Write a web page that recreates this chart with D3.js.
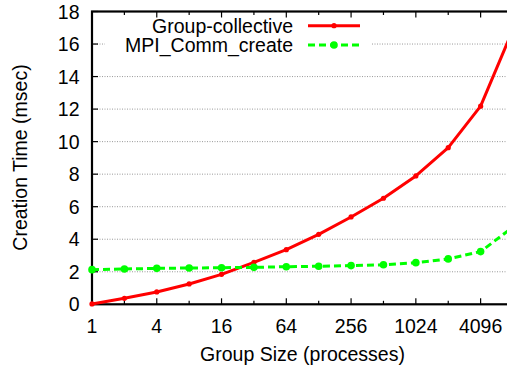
<!DOCTYPE html>
<html>
<head>
<meta charset="utf-8">
<script src="https://cdn.jsdelivr.net/npm/d3@7"></script>
<style>
  html, body { margin: 0; padding: 0; background: #fff; }
  svg { display: block; }
  text { font-family: "Liberation Sans", Arial, Helvetica, sans-serif; fill: #000; }
</style>
</head>
<body>
<svg id="chart" width="507" height="370"></svg>
<script>
// ---- data ----
const groupSizes = [1, 2, 4, 8, 16, 32, 64, 128, 256, 512, 1024, 2048, 4096, 8192];
const groupCollective = [0.02, 0.37, 0.76, 1.25, 1.84, 2.58, 3.36, 4.30, 5.37, 6.52, 7.89, 9.63, 12.18, 16.9];
const mpiCommCreate = [2.13, 2.17, 2.21, 2.23, 2.25, 2.27, 2.31, 2.34, 2.38, 2.43, 2.56, 2.79, 3.24, 4.75];
const xTickLabels = [1, 4, 16, 64, 256, 1024, 4096];
const yTicks = [0, 2, 4, 6, 8, 10, 12, 14, 16, 18];
const seriesNames = ["Group-collective", "MPI_Comm_create"];
const seriesColors = ["#ff0000", "#00ff00"];

const svg = d3.select("#chart");
const mLeft = 92, mRight = 513, mTop = 11.5, mBottom = 304.3;

const x = d3.scaleLog().base(2).domain([1, 8192]).range([mLeft, mRight]);
const y = d3.scaleLinear().domain([0, 18]).range([mBottom, mTop]);

const FS = "19.5px";

// grid lines
const grid = svg.append("g");
yTicks.filter(v => v > 0 && v < 18).forEach(v => {
  grid.append("line")
    .attr("x1", mLeft).attr("x2", mRight)
    .attr("y1", y(v)).attr("y2", y(v))
    .attr("stroke", "#999").attr("stroke-width", 1)
    .attr("stroke-dasharray", "1,1.5");
});

// legend background (hides grid line)
svg.append("rect").attr("x", 105).attr("y", 17).attr("width", 267).attr("height", 38).attr("fill", "#fff");

// ticks on bottom and top (inward)
groupSizes.forEach(v => {
  const major = xTickLabels.includes(v);
  const len = major ? 6 : 3.5;
  svg.append("line").attr("x1", x(v)).attr("x2", x(v)).attr("y1", mBottom).attr("y2", mBottom - len)
    .attr("stroke", "#000").attr("stroke-width", 1.2);
  svg.append("line").attr("x1", x(v)).attr("x2", x(v)).attr("y1", mTop).attr("y2", mTop + len)
    .attr("stroke", "#000").attr("stroke-width", 1.2);
});
// left/right ticks
yTicks.forEach(v => {
  svg.append("line").attr("x1", mLeft).attr("x2", mLeft + 6).attr("y1", y(v)).attr("y2", y(v))
    .attr("stroke", "#000").attr("stroke-width", 1.2);
  svg.append("line").attr("x1", mRight).attr("x2", mRight - 6).attr("y1", y(v)).attr("y2", y(v))
    .attr("stroke", "#000").attr("stroke-width", 1.2);
});

// border
svg.append("rect").attr("x", mLeft).attr("y", mTop).attr("width", mRight - mLeft).attr("height", mBottom - mTop)
  .attr("fill", "none").attr("stroke", "#000").attr("stroke-width", 2.2);

// tick labels
xTickLabels.forEach(v => {
  svg.append("text").attr("x", x(v)).attr("y", 332.5).attr("text-anchor", "middle")
    .style("font-size", FS).text(v);
});
yTicks.forEach(v => {
  svg.append("text").attr("x", 79.5).attr("y", y(v) + 7).attr("text-anchor", "end")
    .style("font-size", FS).text(v);
});

// axis titles
svg.append("text").attr("x", 302.5).attr("y", 361).attr("text-anchor", "middle")
  .style("font-size", FS).text("Group Size (processes)");
svg.append("text").attr("transform", "translate(27,157.5) rotate(-90)").attr("text-anchor", "middle")
  .style("font-size", FS).text("Creation Time (msec)");

// series
const line = d3.line().x(d => x(d[0])).y(d => y(d[1]));
const seriesData = [groupCollective, mpiCommCreate];
seriesData.forEach((vals, i) => {
  const pts = groupSizes.map((s, j) => [s, vals[j]]);
  svg.append("path").datum(pts).attr("d", line)
    .attr("fill", "none").attr("stroke", seriesColors[i]).attr("stroke-width", 3)
    .attr("stroke-linejoin", "round")
    .attr("stroke-dasharray", i === 1 ? "7,4" : null);
  svg.append("g").selectAll("circle").data(pts).join("circle")
    .attr("cx", d => x(d[0])).attr("cy", d => y(d[1]))
    .attr("r", i === 0 ? 2.6 : 3.8).attr("fill", seriesColors[i]);
});

// legend
seriesNames.forEach((name, i) => {
  const ly = i === 0 ? 25.7 : 45;
  svg.append("text").attr("x", 293).attr("y", ly + 7).attr("text-anchor", "end")
    .style("font-size", FS).text(name);
  svg.append("line").attr("x1", 308).attr("x2", 360).attr("y1", ly).attr("y2", ly)
    .attr("stroke", seriesColors[i]).attr("stroke-width", 3)
    .attr("stroke-dasharray", i === 1 ? "7,4" : null);
  svg.append("circle").attr("cx", 334).attr("cy", ly).attr("r", i === 0 ? 2.6 : 3.8).attr("fill", seriesColors[i]);
});
</script>
</body>
</html>
